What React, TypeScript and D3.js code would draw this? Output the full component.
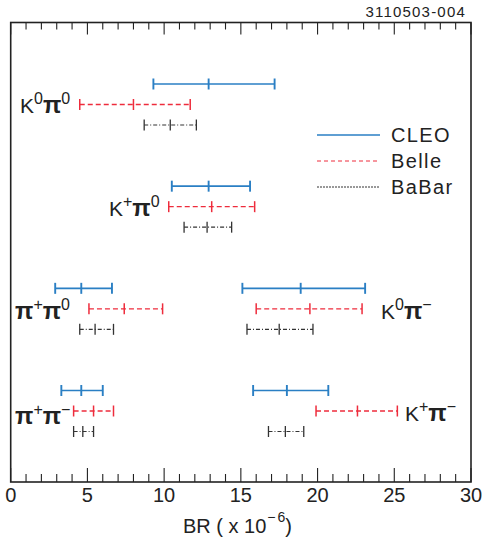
import React, { useEffect, useRef } from "react";
import * as d3 from "d3";

const experiments = ["CLEO", "Belle", "BaBar"];
const expColors = ["#2a7fc4", "#ee2c3c", "#333333"];
const expDash = ["none", "5,3", "4,2,1,2"];
const expWidth = [1.7, 1.3, 1.1];

// decay modes, row on the chart
const modes = ["K0pi0", "K+pi0", "pi+pi0", "K0pi-", "pi+pi-", "K+pi-"];
const modeRow = [0, 1, 2, 2, 3, 3];

// [low, central, high] BR x 1e-6, per mode
const cleoVals = [
  [9.3, 12.9, 17.2],
  [10.5, 12.9, 15.6],
  [2.9, 4.6, 6.6],
  [15.1, 18.9, 23.1],
  [3.3, 4.6, 6.0],
  [15.8, 18.0, 20.7],
];
const belleVals = [
  [4.5, 8.0, 11.7],
  [10.3, 13.1, 15.9],
  [5.1, 7.4, 9.9],
  [16.0, 19.5, 22.9],
  [4.1, 5.4, 6.7],
  [19.9, 22.6, 25.2],
];
const babarVals = [
  [8.7, 10.4, 12.1],
  [11.3, 12.8, 14.4],
  [4.5, 5.5, 6.7],
  [15.4, 17.5, 19.7],
  [4.1, 4.7, 5.4],
  [16.8, 17.9, 19.1],
];
const allVals = [cleoVals, belleVals, babarVals];

const xTicks = [0, 5, 10, 15, 20, 25, 30];
const xMinor = d3.range(0, 31);

export default function App() {
  const ref = useRef<SVGSVGElement>(null);

  useEffect(() => {
    const svg = d3.select(ref.current);
    svg.selectAll("*").remove();

    const left = 10.7, right = 471, top = 22.5, bottom = 482;
    const font = "'Liberation Sans', Arial, Helvetica, sans-serif";

    const x = d3.scaleLinear().domain([0, 30]).range([left, right]);
    const yRow = d3.scaleLinear().domain([0, 3]).range([84, 390.5]);
    const yExp = d3.scalePoint().domain(experiments).range([0, 41]);

    // frame
    svg.append("rect")
      .attr("x", left).attr("y", top)
      .attr("width", right - left).attr("height", bottom - top)
      .attr("fill", "none").attr("stroke", "#222").attr("stroke-width", 1.6);

    // ticks bottom (inward) and top (inward)
    const g = svg.append("g").attr("stroke", "#222").attr("stroke-width", 1.1);
    xMinor.forEach(v => {
      const major = v % 5 === 0;
      g.append("line")
        .attr("x1", x(v)).attr("x2", x(v))
        .attr("y1", bottom).attr("y2", bottom - (major ? 14 : 8));
      g.append("line")
        .attr("x1", x(v)).attr("x2", x(v))
        .attr("y1", top).attr("y2", top + (major ? 12 : 7));
    });

    svg.append("g").selectAll("text").data(xTicks).enter().append("text")
      .attr("x", d => x(d))
      .attr("y", 502)
      .attr("text-anchor", "middle")
      .attr("font-family", font).attr("font-size", 20).attr("fill", "#222")
      .text(d => d);

    const xl = svg.append("text")
      .attr("x", 183).attr("y", 533)
      .attr("font-family", font).attr("font-size", 20).attr("fill", "#222");
    xl.append("tspan").text("BR ( x 10");
    xl.append("tspan").attr("dy", -11).attr("dx", 1).attr("font-size", 14).text("\u2212");
    xl.append("tspan").attr("dx", 2).attr("font-size", 14).text("6");
    xl.append("tspan").attr("dy", 11).text(")");

    svg.append("text")
      .attr("x", 466).attr("y", 17)
      .attr("text-anchor", "end")
      .attr("font-family", font).attr("font-size", 15).attr("letter-spacing", 1.2)
      .attr("fill", "#222")
      .text("3110503-004");

    // error bars
    experiments.forEach((exp, e) => {
      const vals = allVals[e];
      const grp = svg.append("g")
        .attr("stroke", expColors[e])
        .attr("stroke-width", expWidth[e])
        .attr("fill", "none");
      vals.forEach((v, m) => {
        const y = yRow(modeRow[m]) + (yExp(exp) as number);
        grp.append("line")
          .attr("x1", x(v[0])).attr("x2", x(v[2]))
          .attr("y1", y).attr("y2", y)
          .attr("stroke-dasharray", expDash[e]);
        v.forEach(p => {
          grp.append("line")
            .attr("x1", x(p)).attr("x2", x(p))
            .attr("y1", y - 5.5).attr("y2", y + 5.5)
            .attr("stroke-width", expWidth[e] + 0.2);
        });
      });
    });

    // legend
    experiments.forEach((exp, e) => {
      const y = 135 + e * 26;
      svg.append("line")
        .attr("x1", 317).attr("x2", 380)
        .attr("y1", y).attr("y2", y)
        .attr("stroke", expColors[e])
        .attr("stroke-width", e === 0 ? 1.6 : 1)
        .attr("stroke-dasharray", e === 0 ? "none" : e === 1 ? "4,3" : "2,1");
      svg.append("text")
        .attr("x", 391).attr("y", y + 6.5)
        .attr("font-family", font).attr("font-size", 20).attr("letter-spacing", 1.4)
        .attr("fill", "#222")
        .text(exp);
    });

    // mode labels, pixel position
    const labels = [
      { a: "K", s1: "0", s2: "0", x: 20, y: 113 },
      { a: "K", s1: "+", s2: "0", x: 109, y: 216 },
      { a: "\u03c0", s1: "+", s2: "0", x: 15, y: 319 },
      { a: "K", s1: "0", s2: "\u2212", x: 381, y: 319 },
      { a: "\u03c0", s1: "+", s2: "\u2212", x: 15, y: 424 },
      { a: "K", s1: "+", s2: "\u2212", x: 405, y: 421 },
    ];
    labels.forEach(l => {
      const t = svg.append("text")
        .attr("x", l.x).attr("y", l.y)
        .attr("font-family", font).attr("font-size", 21).attr("fill", "#222");
      if (l.a === "K") t.append("tspan").text("K");
      else t.append("tspan").attr("font-weight", "bold").attr("font-size", 24).text(l.a);
      t.append("tspan").attr("dy", -9).attr("font-size", 16).text(l.s1);
      t.append("tspan").attr("dy", 9).attr("font-weight", "bold").attr("font-size", 24).text("\u03c0");
      t.append("tspan").attr("dy", -9).attr("font-size", 16).text(l.s2);
    });
  }, []);

  return (
    <svg ref={ref} width={483} height={544} style={{ position: "absolute", left: 0, top: 0, background: "#fff" }} />
  );
}
